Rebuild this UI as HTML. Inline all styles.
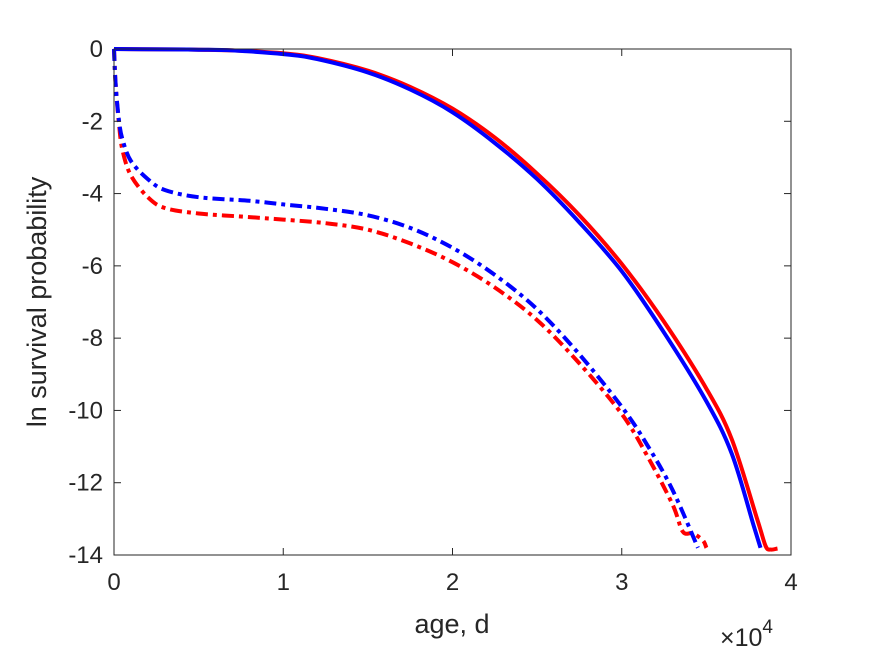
<!DOCTYPE html>
<html><head><meta charset="utf-8"><style>
body{margin:0;background:#fff}
svg{font-family:"Liberation Sans",sans-serif}
</style></head><body>
<svg id="chart" width="875" height="656" viewBox="0 0 875 656" xmlns="http://www.w3.org/2000/svg" style="position:absolute;left:0;top:0">
<rect width="875" height="656" fill="#fff"/>
<g id="marks"></g>
<g id="axes"></g>
</svg>
<script>
const xTicks=[0,1,2,3,4];
const yTicks=[0,-2,-4,-6,-8,-10,-12,-14];
const redSolidX=[0,0.3,0.5,0.7,1.0,1.2,1.5,1.75,2.0,2.25,2.5,2.75,3.0,3.25,3.5,3.65,3.8,3.85,3.88,3.92];
const redSolidY=[0,-0.01,-0.02,-0.04,-0.12,-0.25,-0.6,-1.05,-1.65,-2.45,-3.45,-4.6,-5.95,-7.55,-9.4,-10.8,-13.0,-13.75,-13.85,-13.82];
const blueSolidX=[0,0.3,0.5,0.7,1.0,1.2,1.5,1.75,2.0,2.25,2.5,2.75,3.0,3.25,3.5,3.65,3.78,3.82];
const blueSolidY=[0,-0.01,-0.02,-0.04,-0.14,-0.28,-0.65,-1.12,-1.75,-2.6,-3.6,-4.8,-6.15,-7.85,-9.75,-11.2,-13.2,-13.8];
const blueDashX=[0,0.01,0.03,0.05,0.1,0.2,0.3,0.5,0.8,1.0,1.25,1.5,1.75,2.0,2.25,2.5,2.75,3.0,3.15,3.3,3.45];
const blueDashY=[0,-1.0,-2.0,-2.5,-3.1,-3.6,-3.9,-4.1,-4.2,-4.3,-4.42,-4.6,-4.95,-5.5,-6.25,-7.2,-8.45,-9.9,-10.95,-12.2,-13.8];
const redDashX=[0,0.01,0.03,0.05,0.1,0.2,0.3,0.5,0.8,1.0,1.25,1.5,1.75,2.0,2.25,2.5,2.75,3.0,3.15,3.3,3.36,3.42,3.48,3.5];
const redDashY=[0,-1.0,-2.1,-2.8,-3.5,-4.1,-4.4,-4.55,-4.65,-4.72,-4.82,-5.0,-5.38,-5.9,-6.6,-7.5,-8.7,-10.1,-11.25,-12.6,-13.35,-13.4,-13.6,-13.8];
const X0=114,X1=791,Y0=49,Y1=555;
const sx=v=>X0+(v-0)/(4-0)*(X1-X0);
const sy=v=>Y0+(0-v)/14*(Y1-Y0);
const NS="http://www.w3.org/2000/svg";
const marks=document.getElementById('marks'),axes=document.getElementById('axes');
function mk(t,a,p){const e=document.createElementNS(NS,t);for(const k in a)e.setAttribute(k,a[k]);p.appendChild(e);return e;}
function smooth(xs,ys){
 const P=xs.map((x,i)=>[sx(x),sy(ys[i])]);
 let d='M'+P[0][0].toFixed(1)+','+P[0][1].toFixed(1);
 for(let i=0;i<P.length-1;i++){
  const p0=P[Math.max(0,i-1)],p1=P[i],p2=P[i+1],p3=P[Math.min(P.length-1,i+2)];
  const c1=[p1[0]+(p2[0]-p0[0])/6,p1[1]+(p2[1]-p0[1])/6];
  const c2=[p2[0]-(p3[0]-p1[0])/6,p2[1]-(p3[1]-p1[1])/6];
  d+=' C'+c1.map(v=>v.toFixed(1)).join(',')+' '+c2.map(v=>v.toFixed(1)).join(',')+' '+p2.map(v=>v.toFixed(1)).join(',');
 }
 return d;
}
function line(xs,ys,color,dash,name){
 const p=mk('path',{d:smooth(xs,ys),fill:'none',stroke:color,'stroke-width':4,'stroke-linejoin':'round'},marks);
 if(dash)p.setAttribute('stroke-dasharray',dash);
 
 
}
line(redDashX,redDashY,'#ff0000','12,5,4,5','red-dashdot-line');
line(blueDashX,blueDashY,'#0000ff','12,5,4,5','blue-dashdot-line');
line(redSolidX,redSolidY,'#ff0000',null,'red-solid-line');
line(blueSolidX,blueSolidY,'#0000ff',null,'blue-solid-line');
const box=mk('rect',{x:X0,y:Y0,width:X1-X0,height:Y1-Y0,fill:'none',stroke:'#262626','stroke-width':1},axes);


xTicks.forEach(v=>{
 mk('line',{x1:sx(v),x2:sx(v),y1:Y1,y2:Y1-7,stroke:'#262626'},axes);
 mk('line',{x1:sx(v),x2:sx(v),y1:Y0,y2:Y0+7,stroke:'#262626'},axes);
 const t=mk('text',{x:sx(v),y:Y1+35,'text-anchor':'middle','font-size':24,fill:'#262626'},axes);
 t.textContent=v;
 
 
});
yTicks.forEach(v=>{
 mk('line',{x1:X0,x2:X0+7,y1:sy(v),y2:sy(v),stroke:'#262626'},axes);
 mk('line',{x1:X1,x2:X1-7,y1:sy(v),y2:sy(v),stroke:'#262626'},axes);
 const t=mk('text',{x:X0-11,y:sy(v)+8,'text-anchor':'end','font-size':24,fill:'#262626'},axes);
 t.textContent=v;
 
 
});
</script>
<svg style="position:absolute;left:0;top:0" width="875" height="656" xmlns="http://www.w3.org/2000/svg">
<text x="452" y="633" text-anchor="middle" font-size="27" fill="#262626" font-family="Liberation Sans, sans-serif">age, d</text>
<text x="720" y="646" font-size="25" fill="#262626" font-family="Liberation Sans, sans-serif">×10<tspan dy="-13" font-size="19">4</tspan></text>
<text transform="translate(46,302) rotate(-90)" text-anchor="middle" font-size="27" fill="#262626" font-family="Liberation Sans, sans-serif">ln survival probability</text>
</svg>
</body></html>
